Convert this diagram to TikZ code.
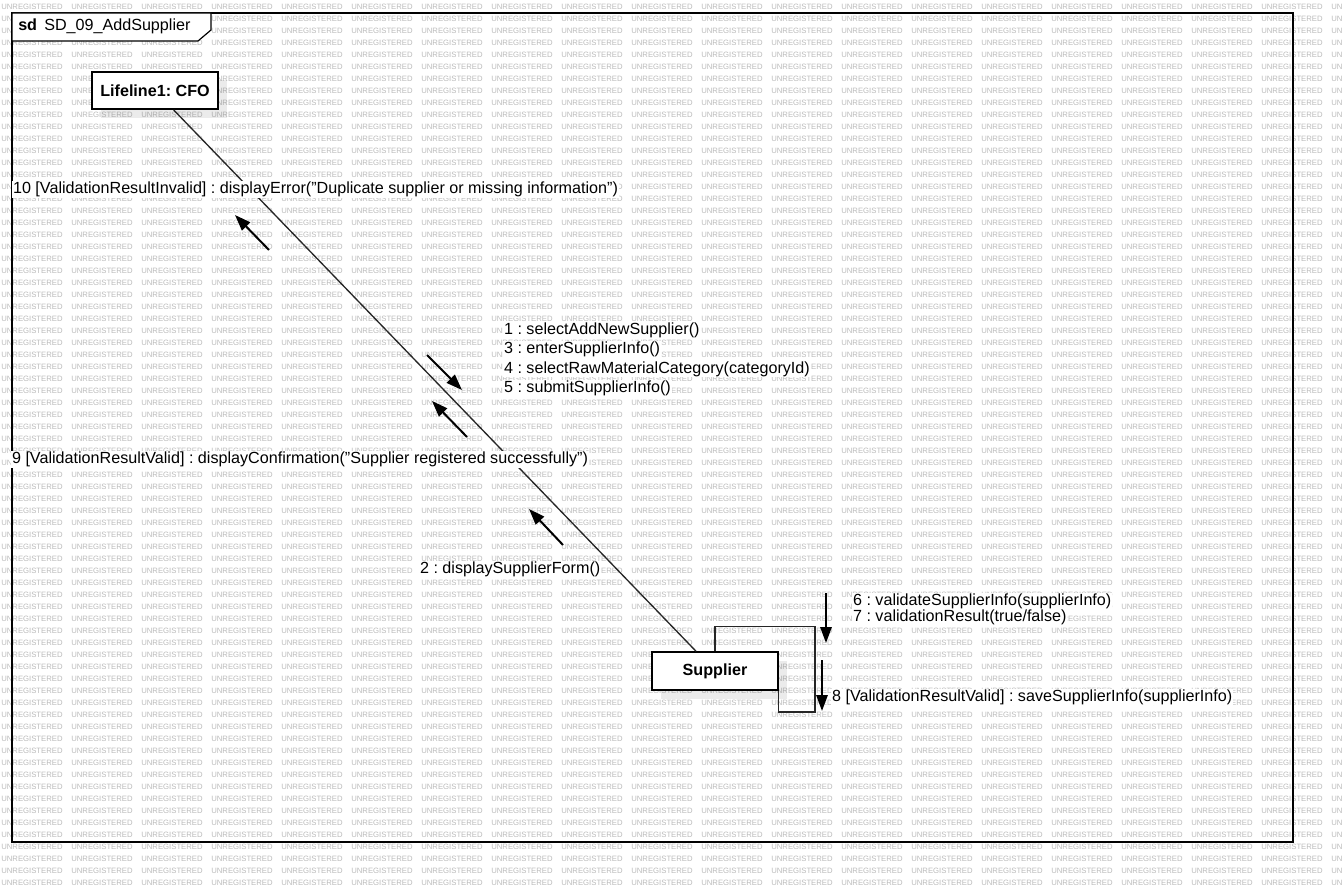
\documentclass[tikz,border=0pt]{standalone}
\usepackage{fontspec}
\setmainfont{Liberation Sans}
\usetikzlibrary{arrows.meta,shadows}
\frenchspacing
\begin{document}
\begin{tikzpicture}[x=0.75pt,y=-0.75pt,
  font=\fontsize{12.1}{14}\selectfont,
  wmark/.style={anchor=west,inner sep=0pt,text=black!27,font=\fontsize{5.8}{6}\selectfont},
  framebox/.style={draw=black,line width=1.1pt},
  objbox/.style={draw=black,line width=1.1pt,fill=white,inner sep=0pt,
    minimum width=94.5pt,minimum height=28pt,font=\bfseries\fontsize{12.1}{14}\selectfont,
    drop shadow={shadow xshift=6.5pt,shadow yshift=-6.5pt,opacity=0.08,fill=black}},
  link/.style={draw=black!85,line width=1pt},
  selfloop/.style={draw=black!85,line width=1.1pt},
  msg/.style={anchor=base west,fill=white,inner sep=0.6pt},
  msgarrow/.style={line width=1.5pt,-{Triangle[length=12pt,width=8.5pt]}},
]
\useasboundingbox (0,0) rectangle (1342,892);

% tiled background stamp
\foreach \r in {0,...,73}{
  \foreach \c in {0,...,19}{
    \node[wmark] (wm-\r-\c) at (\c*70+1,\r*12+7) {UNREGISTERED};
  }
}

% interaction frame and its name tag
\draw[framebox] (12,13) rectangle (1293,842);
\draw[framebox,fill=white,line width=0.9pt] (12,13) -- (211,13) -- (211,30) -- (198,41) -- (12,41) -- cycle;
\node[anchor=base west,inner sep=0pt] (sdkw) at (18,30.7) {\bfseries sd};
\node[anchor=base west,inner sep=0pt] (sdname) at (44,30.7) {SD\_09\_AddSupplier};

% lifelines
\node[objbox] (cfo) at (155,90.5) {Lifeline1: CFO};
\node[objbox,minimum height=28.5pt] (sup) at (715,671) {Supplier};

% link between the two lifelines
\draw[link] (cfo) -- (sup);

% self link on Supplier
\draw[selfloop] (sup.north) -- ++(0,-25) -| (815,712) -| (sup.south east);

% message arrows
\coordinate (a1s) at (427,355);  \coordinate (a1e) at (462,390);
\coordinate (a2s) at (467,437);  \coordinate (a2e) at (432,401);
\coordinate (a3s) at (563,545);  \coordinate (a3e) at (529,509);
\coordinate (a4s) at (269,250);  \coordinate (a4e) at (235,215);
\coordinate (a5s) at (826,593);  \coordinate (a5e) at (826,643);
\coordinate (a6s) at (822,660);  \coordinate (a6e) at (822,711);
\draw[msgarrow] (a1s) -- (a1e);
\draw[msgarrow] (a2s) -- (a2e);
\draw[msgarrow] (a3s) -- (a3e);
\draw[msgarrow] (a4s) -- (a4e);
\draw[msgarrow] (a5s) -- (a5e);
\draw[msgarrow] (a6s) -- (a6e);

% message labels
\node[msg] (m10) at (12,193.5) {10 [ValidationResultInvalid] : displayError("Duplicate supplier or missing information")};
\node[msg] (m1) at (503,334) {1 : selectAddNewSupplier()};
\node[msg] (m3) at (503,353.3) {3 : enterSupplierInfo()};
\node[msg] (m4) at (503,373.3) {4 : selectRawMaterialCategory(categoryId)};
\node[msg] (m5) at (503,392.7) {5 : submitSupplierInfo()};
\node[msg] (m9) at (11,463.5) {9 [ValidationResultValid] : displayConfirmation("Supplier registered successfully")};
\node[msg] (m2) at (419,573.3) {2 : displaySupplierForm()};
\node[msg] (m6) at (852,605.7) {6 : validateSupplierInfo(supplierInfo)};
\node[msg] (m7) at (852,621.7) {7 : validationResult(true/false)};
\node[msg] (m8) at (831,701) {8 [ValidationResultValid] : saveSupplierInfo(supplierInfo)};
\end{tikzpicture}
\end{document}
